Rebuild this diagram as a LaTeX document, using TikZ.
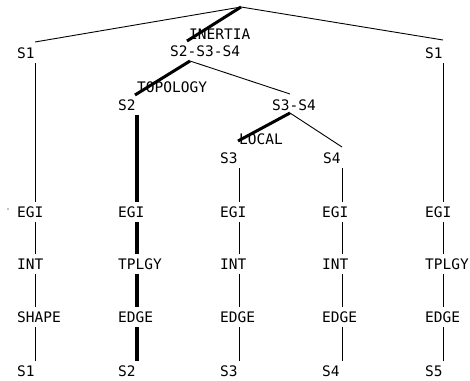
\documentclass[tikz,border=0pt]{standalone}
\usepackage{fontspec}
\setmonofont{DejaVu Sans Mono}
\begin{document}
\begin{tikzpicture}[x=1pt,y=-1pt,
  lab/.style={font=\ttfamily\fontsize{14.5}{15}\selectfont, anchor=west, inner xsep=0pt, inner ysep=4.5pt},
  tln/.style={line width=0.9pt},
  tck/.style={line width=3pt},
  vck/.style={line width=4pt}]
\useasboundingbox (0,0) rectangle (470,380);
% column x positions
\coordinate (c1) at (35,0);
\coordinate (c2) at (137,0);
\coordinate (c3) at (239,0);
\coordinate (c4) at (342,0);
\coordinate (c5) at (443,0);
% top labels
\node[lab] (a1) at (17,53) {S1};
\node[lab] (a5) at (425,53) {S1};
\node[lab] (top) at (170,51) {S2-S3-S4};
\node[lab] (inertia) at (189,34) {INERTIA};
\node[lab] (topo) at (137,87) {TOPOLOGY};
\node[lab] (a2) at (118,105) {S2};
\node[lab] (s34) at (272,105) {S3-S4};
\node[lab] (local) at (239,139) {LOCAL};
\node[lab] (a3) at (220,158) {S3};
\node[lab] (a4) at (323,158) {S4};
% rows
\node[lab] (g1) at (17,212) {EGI};
\node[lab] (g2) at (118,212) {EGI};
\node[lab] (g3) at (220,212) {EGI};
\node[lab] (g4) at (322,212) {EGI};
\node[lab] (g5) at (425,212) {EGI};
\node[lab] (i1) at (17,264) {INT};
\node[lab] (i2) at (118,264) {TPLGY};
\node[lab] (i3) at (220,264) {INT};
\node[lab] (i4) at (322,264) {INT};
\node[lab] (i5) at (425,264) {TPLGY};
\node[lab] (h1) at (17,317) {SHAPE};
\node[lab] (h2) at (118,317) {EDGE};
\node[lab] (h3) at (220,317) {EDGE};
\node[lab] (h4) at (322,317) {EDGE};
\node[lab] (h5) at (425,317) {EDGE};
\node[lab] (b1) at (17,371) {S1};
\node[lab] (b2) at (118,371) {S2};
\node[lab] (b3) at (220,371) {S3};
\node[lab] (b4) at (322,371) {S4};
\node[lab] (b5) at (425,371) {S5};
% tree coordinates
\coordinate (apex) at (241,7);
\coordinate (e1) at (35,42);
\coordinate (e5) at (443,40);
\coordinate (ein) at (187,41);
\coordinate (p1) at (190,61);
\coordinate (etopo) at (135,95);
\coordinate (e34) at (290,94);
\coordinate (p2) at (290,113);
\coordinate (eloc) at (238,141);
\coordinate (e4) at (342,147);
% tree lines
\draw[tln] (e1) -- (apex) -- (e5);
\draw[tck] (apex) -- (ein);
\draw[tck] (p1) -- (etopo);
\draw[tln] (p1) -- (e34);
\draw[tck] (p2) -- (eloc);
\draw[tln] (p2) -- (e4);
% columns
\draw[tln] (a1.south -| c1) -- (g1.north -| c1);
\draw[tln] (g1.south -| c1) -- (i1.north -| c1);
\draw[tln] (i1.south -| c1) -- (h1.north -| c1);
\draw[tln] (h1.south -| c1) -- (b1.north -| c1);
\draw[vck] (a2.south -| c2) -- (g2.north -| c2);
\draw[vck] (g2.south -| c2) -- (i2.north -| c2);
\draw[vck] (i2.south -| c2) -- (h2.north -| c2);
\draw[vck] (h2.south -| c2) -- (b2.north -| c2);
\draw[tln] (a3.south -| c3) -- (g3.north -| c3);
\draw[tln] (g3.south -| c3) -- (i3.north -| c3);
\draw[tln] (i3.south -| c3) -- (h3.north -| c3);
\draw[tln] (h3.south -| c3) -- (b3.north -| c3);
\draw[tln] (a4.south -| c4) -- (g4.north -| c4);
\draw[tln] (g4.south -| c4) -- (i4.north -| c4);
\draw[tln] (i4.south -| c4) -- (h4.north -| c4);
\draw[tln] (h4.south -| c4) -- (b4.north -| c4);
\draw[tln] (a5.south -| c5) -- (g5.north -| c5);
\draw[tln] (g5.south -| c5) -- (i5.north -| c5);
\draw[tln] (i5.south -| c5) -- (h5.north -| c5);
\draw[tln] (h5.south -| c5) -- (b5.north -| c5);
% stray mark
\fill (8,209) circle (0.7);
\end{tikzpicture}
\end{document}
